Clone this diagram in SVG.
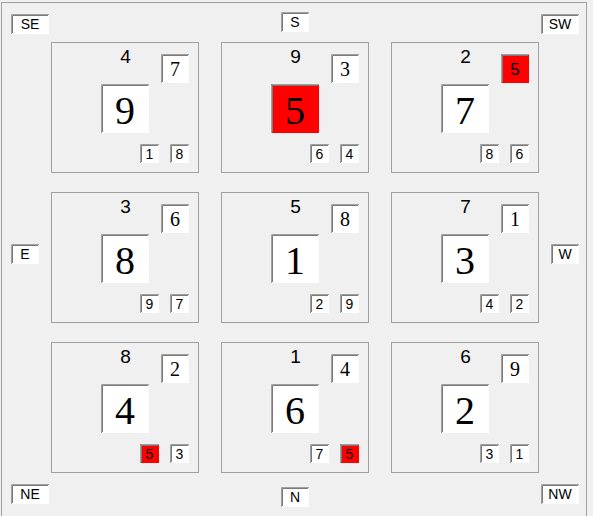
<svg xmlns="http://www.w3.org/2000/svg" xmlns:xlink="http://www.w3.org/1999/xlink" width="593" height="516" viewBox="0 0 593 516">
<style>
.bg{fill:#f0f0f0}
.frame{fill:none;stroke:#a0a0a0;stroke-width:1}
.cell{fill:none;stroke:#a0a0a0;stroke-width:1}
.eo{fill:none;stroke:#a0a0a0;stroke-width:1}
.ei{fill:none;stroke:#7a7a7a;stroke-width:1}
.title{font-family:"Liberation Sans",Arial,sans-serif;font-size:19px;fill:#000;text-anchor:middle}
.big{font-family:"Liberation Serif","Times New Roman",serif;font-size:40px;fill:#000;text-anchor:middle}
.tr{font-family:"Liberation Serif","Times New Roman",serif;font-size:20px;fill:#000;text-anchor:middle}
.trs{font-family:"Liberation Sans",Arial,sans-serif;font-size:17px;fill:#000;text-anchor:middle}
.sm{font-family:"Liberation Sans",Arial,sans-serif;font-size:14px;fill:#000;text-anchor:middle}
.dir{font-family:"Liberation Sans",Arial,sans-serif;font-size:14px;fill:#000;text-anchor:middle}
</style>
<defs>
<g id="bigbox"><rect width="48" height="49"/><path class="eo" d="M0.5 49V0.5H48"/><path class="ei" d="M1.5 48V1.5H47"/></g>
<g id="trbox"><rect width="28" height="29"/><path class="eo" d="M0.5 29V0.5H28"/><path class="ei" d="M1.5 28V1.5H27"/></g>
<g id="smbox"><rect width="19" height="19"/><path class="eo" d="M0.5 19V0.5H19"/><path class="ei" d="M1.5 18V1.5H18"/></g>
<g id="dir38"><rect width="38" height="20"/><path class="eo" d="M0.5 20V0.5H38"/><path class="ei" d="M1.5 19V1.5H37"/></g>
<g id="dir28"><rect width="28" height="20"/><path class="eo" d="M0.5 20V0.5H28"/><path class="ei" d="M1.5 19V1.5H27"/></g>
</defs>
<rect class="bg" x="0" y="0" width="593" height="516"/>
<rect class="frame" x="1.5" y="2.5" width="585" height="530"/>

<g id="labels">
<g id="lbl-SE"><use xlink:href="#dir38" x="11" y="14" fill="#fff"/><text class="dir" x="30" y="29">SE</text></g>
<g id="lbl-S"><use xlink:href="#dir28" x="281" y="12" fill="#fff"/><text class="dir" x="295" y="27">S</text></g>
<g id="lbl-SW"><use xlink:href="#dir38" x="541" y="14" fill="#fff"/><text class="dir" x="560" y="29">SW</text></g>
<g id="lbl-E"><use xlink:href="#dir28" x="11" y="244" fill="#fff"/><text class="dir" x="25" y="259">E</text></g>
<g id="lbl-W"><use xlink:href="#dir28" x="551" y="244" fill="#fff"/><text class="dir" x="565" y="259">W</text></g>
<g id="lbl-NE"><use xlink:href="#dir38" x="11" y="484" fill="#fff"/><text class="dir" x="30" y="499">NE</text></g>
<g id="lbl-N"><use xlink:href="#dir28" x="281" y="487" fill="#fff"/><text class="dir" x="295" y="502">N</text></g>
<g id="lbl-NW"><use xlink:href="#dir38" x="541" y="484" fill="#fff"/><text class="dir" x="560" y="499">NW</text></g>
</g>

<g id="cell-r1c1">
<rect class="cell" x="51.5" y="42.5" width="147" height="130"/>
<text class="title" x="125.5" y="63">4</text>
<use xlink:href="#bigbox" x="101" y="84" fill="#fff"/><text class="big" x="125" y="124">9</text>
<use xlink:href="#trbox" x="161" y="54" fill="#fff"/><text class="tr" x="175" y="76">7</text>
<use xlink:href="#smbox" x="140" y="144" fill="#fff"/><text class="sm" x="149.5" y="159">1</text>
<use xlink:href="#smbox" x="170" y="144" fill="#fff"/><text class="sm" x="179.5" y="159">8</text>
</g>
<g id="cell-r1c2">
<rect class="cell" x="221.5" y="42.5" width="147" height="130"/>
<text class="title" x="295.5" y="63">9</text>
<use xlink:href="#bigbox" x="271" y="84" fill="#ff0000"/><text class="big" x="295" y="124">5</text>
<use xlink:href="#trbox" x="331" y="54" fill="#fff"/><text class="tr" x="345" y="76">3</text>
<use xlink:href="#smbox" x="310" y="144" fill="#fff"/><text class="sm" x="319.5" y="159">6</text>
<use xlink:href="#smbox" x="340" y="144" fill="#fff"/><text class="sm" x="349.5" y="159">4</text>
</g>
<g id="cell-r1c3">
<rect class="cell" x="391.5" y="42.5" width="147" height="130"/>
<text class="title" x="465.5" y="63">2</text>
<use xlink:href="#bigbox" x="441" y="84" fill="#fff"/><text class="big" x="465" y="124">7</text>
<use xlink:href="#trbox" x="501" y="54" fill="#ff0000"/><text class="trs" x="515" y="75">5</text>
<use xlink:href="#smbox" x="480" y="144" fill="#fff"/><text class="sm" x="489.5" y="159">8</text>
<use xlink:href="#smbox" x="510" y="144" fill="#fff"/><text class="sm" x="519.5" y="159">6</text>
</g>

<g id="cell-r2c1">
<rect class="cell" x="51.5" y="192.5" width="147" height="130"/>
<text class="title" x="125.5" y="213">3</text>
<use xlink:href="#bigbox" x="101" y="234" fill="#fff"/><text class="big" x="125" y="274">8</text>
<use xlink:href="#trbox" x="161" y="204" fill="#fff"/><text class="tr" x="175" y="226">6</text>
<use xlink:href="#smbox" x="140" y="294" fill="#fff"/><text class="sm" x="149.5" y="309">9</text>
<use xlink:href="#smbox" x="170" y="294" fill="#fff"/><text class="sm" x="179.5" y="309">7</text>
</g>
<g id="cell-r2c2">
<rect class="cell" x="221.5" y="192.5" width="147" height="130"/>
<text class="title" x="295.5" y="213">5</text>
<use xlink:href="#bigbox" x="271" y="234" fill="#fff"/><text class="big" x="295" y="274">1</text>
<use xlink:href="#trbox" x="331" y="204" fill="#fff"/><text class="tr" x="345" y="226">8</text>
<use xlink:href="#smbox" x="310" y="294" fill="#fff"/><text class="sm" x="319.5" y="309">2</text>
<use xlink:href="#smbox" x="340" y="294" fill="#fff"/><text class="sm" x="349.5" y="309">9</text>
</g>
<g id="cell-r2c3">
<rect class="cell" x="391.5" y="192.5" width="147" height="130"/>
<text class="title" x="465.5" y="213">7</text>
<use xlink:href="#bigbox" x="441" y="234" fill="#fff"/><text class="big" x="465" y="274">3</text>
<use xlink:href="#trbox" x="501" y="204" fill="#fff"/><text class="tr" x="515" y="226">1</text>
<use xlink:href="#smbox" x="480" y="294" fill="#fff"/><text class="sm" x="489.5" y="309">4</text>
<use xlink:href="#smbox" x="510" y="294" fill="#fff"/><text class="sm" x="519.5" y="309">2</text>
</g>

<g id="cell-r3c1">
<rect class="cell" x="51.5" y="342.5" width="147" height="130"/>
<text class="title" x="125.5" y="363">8</text>
<use xlink:href="#bigbox" x="101" y="384" fill="#fff"/><text class="big" x="125" y="424">4</text>
<use xlink:href="#trbox" x="161" y="354" fill="#fff"/><text class="tr" x="175" y="376">2</text>
<use xlink:href="#smbox" x="140" y="444" fill="#ff0000"/><text class="sm" x="149.5" y="459">5</text>
<use xlink:href="#smbox" x="170" y="444" fill="#fff"/><text class="sm" x="179.5" y="459">3</text>
</g>
<g id="cell-r3c2">
<rect class="cell" x="221.5" y="342.5" width="147" height="130"/>
<text class="title" x="295.5" y="363">1</text>
<use xlink:href="#bigbox" x="271" y="384" fill="#fff"/><text class="big" x="295" y="424">6</text>
<use xlink:href="#trbox" x="331" y="354" fill="#fff"/><text class="tr" x="345" y="376">4</text>
<use xlink:href="#smbox" x="310" y="444" fill="#fff"/><text class="sm" x="319.5" y="459">7</text>
<use xlink:href="#smbox" x="340" y="444" fill="#ff0000"/><text class="sm" x="349.5" y="459">5</text>
</g>
<g id="cell-r3c3">
<rect class="cell" x="391.5" y="342.5" width="147" height="130"/>
<text class="title" x="465.5" y="363">6</text>
<use xlink:href="#bigbox" x="441" y="384" fill="#fff"/><text class="big" x="465" y="424">2</text>
<use xlink:href="#trbox" x="501" y="354" fill="#fff"/><text class="tr" x="515" y="376">9</text>
<use xlink:href="#smbox" x="480" y="444" fill="#fff"/><text class="sm" x="489.5" y="459">3</text>
<use xlink:href="#smbox" x="510" y="444" fill="#fff"/><text class="sm" x="519.5" y="459">1</text>
</g>
<g id="connectors"/>
</svg>
